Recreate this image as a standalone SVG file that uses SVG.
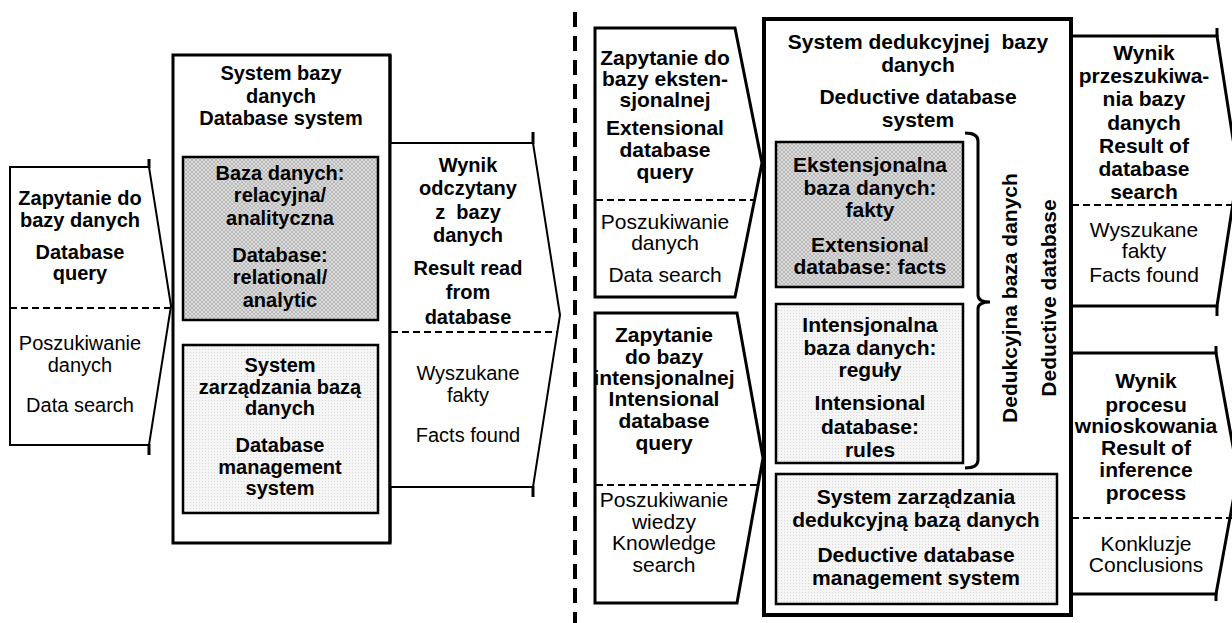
<svg xmlns="http://www.w3.org/2000/svg" width="1232" height="623" viewBox="0 0 1232 623">
<defs>
<pattern id="dark" width="4" height="4" patternUnits="userSpaceOnUse">
<rect width="4" height="4" fill="#dcdcdc"/>
<path d="M0,0 L4,4 M4,0 L0,4" stroke="#b0b0b0" stroke-width="0.8"/>
</pattern>
<pattern id="light" width="3" height="3" patternUnits="userSpaceOnUse">
<rect width="3" height="3" fill="#f5f5f5"/>
<rect x="1" y="1" width="1" height="1" fill="#dadada"/>
</pattern>
<style>
text{font-family:"Liberation Sans",Arial,sans-serif;text-anchor:middle;fill:#000}
.b{font-weight:bold}
.s20{font-size:20px}
.s21{font-size:21px}
.sh{fill:#fff;stroke:#000;stroke-linejoin:miter}
.t2{stroke-width:2}
.t3{stroke-width:3}
.t4{stroke-width:4}
.dash{stroke:#000;stroke-width:2;stroke-dasharray:7 4;fill:none}
.stub{stroke:#000;stroke-width:3;fill:none}
.dk{fill:url(#dark);stroke:#000;stroke-width:2.5}
.lt{fill:url(#light);stroke:#000;stroke-width:2.5}
</style>
</defs>
<rect width="1232" height="623" fill="#fff"/>

<g id="separator">
<line x1="575" y1="12" x2="575" y2="623" stroke="#000" stroke-width="4" stroke-dasharray="15 9"/>
</g>

<g id="db-query" class="s20">
<path class="sh t2" d="M10,167 H149 L171,306 L149,445 H10 Z"/>
<path class="stub" d="M149,159 V168 M149,444 V455"/>
<line class="dash" x1="10" y1="308" x2="170" y2="308"/>
<text class="b" x="80" y="205">Zapytanie do</text>
<text class="b" x="80" y="227">bazy danych</text>
<text class="b" x="80" y="259">Database</text>
<text class="b" x="80" y="280">query</text>
<text x="80" y="350">Poszukiwanie</text>
<text x="80" y="372">danych</text>
<text x="80" y="412">Data search</text>
</g>

<g id="db-system" class="s20">
<rect class="sh t3" x="173" y="55" width="217" height="488"/>
<text class="b" x="281" y="80">System bazy</text>
<text class="b" x="281" y="103">danych</text>
<text class="b" x="281" y="125">Database system</text>
</g>

<g id="database" class="s20">
<rect class="dk" x="183" y="157" width="195" height="163"/>
<text class="b" x="280" y="180">Baza danych:</text>
<text class="b" x="280" y="202">relacyjna/</text>
<text class="b" x="280" y="225">analityczna</text>
<text class="b" x="280" y="262">Database:</text>
<text class="b" x="280" y="284">relational/</text>
<text class="b" x="280" y="307">analytic</text>
</g>

<g id="dbms" class="s20">
<rect class="lt" x="183" y="345" width="195" height="168"/>
<text class="b" x="280" y="372">System</text>
<text class="b" x="280" y="394">zarządzania bazą</text>
<text class="b" x="280" y="415">danych</text>
<text class="b" x="280" y="452">Database</text>
<text class="b" x="280" y="474">management</text>
<text class="b" x="280" y="495">system</text>
</g>

<g id="db-result" class="s20">
<path class="sh t2" d="M390,143 H533 L560,315 L533,487 H390"/>
<path class="stub" d="M533,132 V144 M533,486 V497"/>
<line class="dash" x1="391" y1="332" x2="557" y2="332"/>
<text class="b" x="468" y="172">Wynik</text>
<text class="b" x="468" y="195">odczytany</text>
<text class="b" x="468" y="219">z&#160; bazy</text>
<text class="b" x="468" y="242">danych</text>
<text class="b" x="468" y="275">Result read</text>
<text class="b" x="468" y="299">from</text>
<text class="b" x="468" y="324">database</text>
<text x="468" y="380">Wyszukane</text>
<text x="468" y="402">fakty</text>
<text x="468" y="442">Facts found</text>
</g>
<line x1="390" y1="55" x2="390" y2="543" stroke="#000" stroke-width="3"/>

<g id="ext-query" class="s21">
<path class="sh t3" d="M595,28 H735 L762,163 L735,297 H595 Z"/>
<line class="dash" x1="596" y1="200" x2="754" y2="200"/>
<text class="b" x="665" y="65">Zapytanie do</text>
<text class="b" x="665" y="86">bazy eksten-</text>
<text class="b" x="665" y="107">sjonalnej</text>
<text class="b" x="665" y="135">Extensional</text>
<text class="b" x="665" y="157">database</text>
<text class="b" x="665" y="179">query</text>
<text x="665" y="229">Poszukiwanie</text>
<text x="665" y="250">danych</text>
<text x="665" y="282">Data search</text>
</g>

<g id="int-query" class="s21">
<path class="sh t3" d="M595,313 H737 L763,458 L737,603 H595 Z"/>
<line class="dash" x1="596" y1="485" x2="758" y2="485"/>
<text class="b" x="664" y="342">Zapytanie</text>
<text class="b" x="664" y="364">do bazy</text>
<text class="b" x="664" y="385">intensjonalnej</text>
<text class="b" x="664" y="406">Intensional</text>
<text class="b" x="664" y="428">database</text>
<text class="b" x="664" y="450">query</text>
<text x="664" y="507">Poszukiwanie</text>
<text x="664" y="529">wiedzy</text>
<text x="664" y="550">Knowledge</text>
<text x="664" y="572">search</text>
</g>

<g id="ddb-system" class="s21">
<rect class="sh t4" x="764" y="19" width="307" height="596"/>
<text class="b" x="918" y="49">System dedukcyjnej&#160; bazy</text>
<text class="b" x="918" y="72">danych</text>
<text class="b" x="918" y="104">Deductive database</text>
<text class="b" x="918" y="127">system</text>
<text class="b" transform="translate(1017,298) rotate(-90)" x="0" y="0">Dedukcyjna baza danych</text>
<text class="b" transform="translate(1056,298) rotate(-90)" x="0" y="0">Deductive database</text>
</g>

<g id="ext-db" class="s21">
<rect class="dk" x="776" y="142" width="187" height="145"/>
<text class="b" x="870" y="172">Ekstensjonalna</text>
<text class="b" x="870" y="195">baza danych:</text>
<text class="b" x="870" y="217">fakty</text>
<text class="b" x="870" y="252">Extensional</text>
<text class="b" x="870" y="274">database: facts</text>
</g>

<g id="int-db" class="s21">
<rect class="lt" x="776" y="304" width="187" height="159"/>
<text class="b" x="870" y="332">Intensjonalna</text>
<text class="b" x="870" y="355">baza danych:</text>
<text class="b" x="870" y="377">reguły</text>
<text class="b" x="870" y="410">Intensional</text>
<text class="b" x="870" y="434">database:</text>
<text class="b" x="870" y="457">rules</text>
</g>

<g id="ddbms" class="s21">
<rect class="lt" x="776" y="474" width="281" height="130"/>
<text class="b" x="916" y="504">System zarządzania</text>
<text class="b" x="916" y="527">dedukcyjną bazą danych</text>
<text class="b" x="916" y="562">Deductive database</text>
<text class="b" x="916" y="585">management system</text>
</g>

<g id="search-result" class="s21">
<path class="sh t3" d="M1071,36 H1217 L1238,171 L1217,306 H1071"/>
<path class="stub" d="M1217,28 V37 M1217,305 V316"/>
<line class="dash" x1="1072" y1="205" x2="1232" y2="205"/>
<text class="b" x="1144" y="60">Wynik</text>
<text class="b" x="1144" y="83">przeszukiwa-</text>
<text class="b" x="1144" y="106">nia bazy</text>
<text class="b" x="1144" y="130">danych</text>
<text class="b" x="1144" y="153">Result of</text>
<text class="b" x="1144" y="176">database</text>
<text class="b" x="1144" y="199">search</text>
<text x="1144" y="237">Wyszukane</text>
<text x="1144" y="258">fakty</text>
<text x="1144" y="282">Facts found</text>
</g>

<g id="inference-result" class="s21">
<path class="sh t3" d="M1071,353 H1216 L1238,474 L1216,594 H1071"/>
<path class="stub" d="M1216,346 V354 M1216,593 V601"/>
<line class="dash" x1="1072" y1="518" x2="1232" y2="518"/>
<text class="b" x="1146" y="388">Wynik</text>
<text class="b" x="1146" y="412">procesu</text>
<text class="b" x="1146" y="433">wnioskowania</text>
<text class="b" x="1146" y="455">Result of</text>
<text class="b" x="1146" y="477">inference</text>
<text class="b" x="1146" y="500">process</text>
<text x="1146" y="551">Konkluzje</text>
<text x="1146" y="572">Conclusions</text>
</g>
<line x1="1071" y1="19" x2="1071" y2="615" stroke="#000" stroke-width="4"/>

<g id="connectors">
<path d="M965,133 Q978,133 978,141 V295 Q978,302 990,302 Q978,302 978,309 V460 Q978,468 965,468" fill="none" stroke="#000" stroke-width="3"/>
</g>
</svg>
